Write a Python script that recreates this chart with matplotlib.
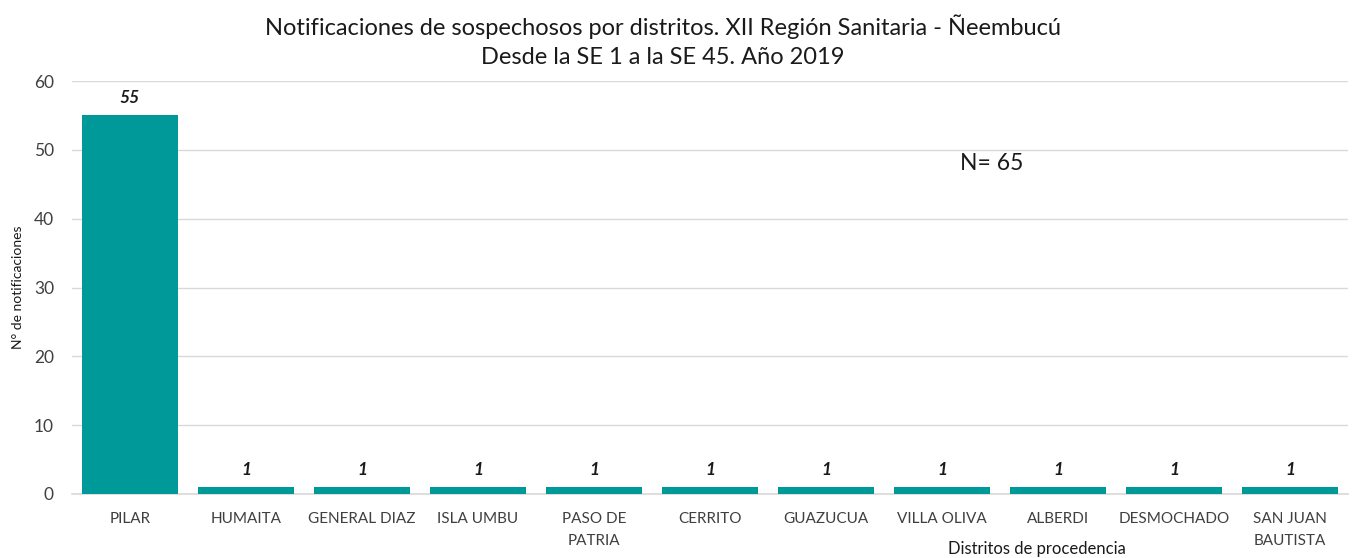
import matplotlib
matplotlib.use("Agg")
import matplotlib.pyplot as plt

categories = ["PILAR", "HUMAITA", "GENERAL DIAZ", "ISLA UMBU", "PASO DE\nPATRIA",
              "CERRITO", "GUAZUCUA", "VILLA OLIVA", "ALBERDI", "DESMOCHADO",
              "SAN JUAN\nBAUTISTA"]
values = [55, 1, 1, 1, 1, 1, 1, 1, 1, 1, 1]
yticks = [0, 10, 20, 30, 40, 50, 60]

plt.rcParams['font.family'] = ['Lato', 'DejaVu Sans']

fig = plt.figure(figsize=(13.55, 5.58), dpi=100)
ax = fig.add_axes([72/1355, 1-494/558, (1348-72)/1355, (494-81)/558])

x = list(range(len(categories)))
ax.bar(x, values, width=0.83, color="#009999", zorder=3)
for xi, v in zip(x, values):
    ax.text(xi, v + 1.3, str(v), ha="center", va="bottom", fontsize=12.5,
            fontweight="bold", fontstyle="italic", color="#1a1a1a")

ax.set_xlim(-0.5, len(categories) - 0.5)
ax.set_ylim(0, 60)
ax.set_yticks(yticks)
ax.set_xticks(x)
ax.set_xticklabels(categories, fontsize=11, color="#404040", linespacing=1.75)
ax.tick_params(axis="y", labelsize=12.5, colors="#404040", length=0, pad=13)
ax.tick_params(axis="x", length=0, pad=13)
ax.grid(axis="y", color="#d9d9d9", linewidth=1, zorder=0)
for s in ["top", "right", "left"]:
    ax.spines[s].set_visible(False)
ax.spines["bottom"].set_color("#d9d9d9")
ax.spines["bottom"].set_linewidth(1.2)

ax.set_ylabel("N° de notificaciones", fontsize=10, color="#1a1a1a")
ax.yaxis.set_label_coords(-48/1276, 0.5)
fig.text(1037/1355, 1-549/558, "Distritos de procedencia", ha="center", va="center",
         fontsize=12, color="#1a1a1a")
fig.text(663/1355, 1-27/558, "Notificaciones de sospechosos por distritos. XII Región Sanitaria - Ñeembucú",
         ha="center", va="center", fontsize=17, color="#1a1a1a")
fig.text(663/1355, 1-58/558, "Desde la SE 1 a la SE 45. Año 2019",
         ha="center", va="center", fontsize=17, color="#1a1a1a")
fig.text(992/1355, 1-163/558, "N= 65", ha="center", va="center", fontsize=16.5, color="#1a1a1a")

fig.savefig("out.png", dpi=100)
